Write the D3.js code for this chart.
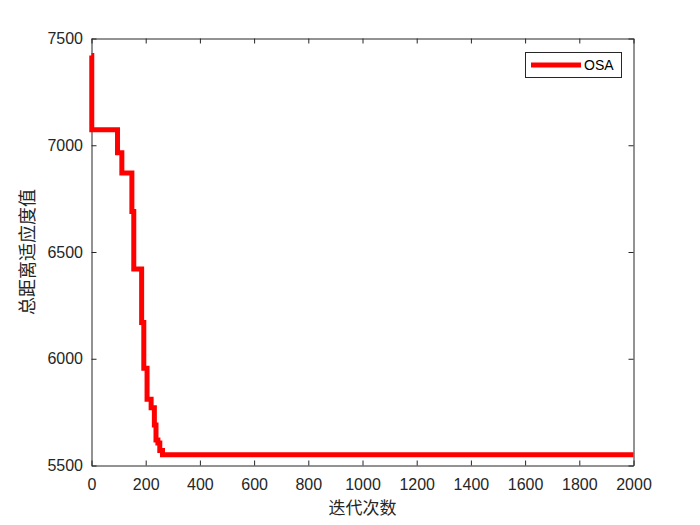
<html>
<head>
<meta charset="utf-8">
<script src="https://d3js.org/d3.v7.min.js"></script>
<style>
body { margin: 0; background: #fff; }
.axis path, .axis line { stroke: #262626; stroke-width: 1; }
</style>
</head>
<body>
<svg width="700" height="525"></svg>
<script>
// iteration where the best fitness changes, and the value from there on
var iters = [0, 1, 96, 112, 149, 156, 185, 193, 205, 220, 232, 238, 245, 252, 262, 2000];
var fitness = [7420, 7073, 6965, 6870, 6690, 6420, 6170, 5955, 5810, 5770, 5690, 5620, 5605, 5570, 5550, 5550];
var xTicks = [0, 200, 400, 600, 800, 1000, 1200, 1400, 1600, 1800, 2000];
var yTicks = [5500, 6000, 6500, 7000, 7500];
var seriesName = "OSA";
var xTitle = "迭代次数";
var yTitle = "总距离适应度值";

var svg = d3.select("svg");

var x = d3.scaleLinear().domain([0, 2000]).range([91.5, 633.5]);
var y = d3.scaleLinear().domain([5500, 7500]).range([465.5, 38.5]);

var points = iters.map(function(d, i) { return [d, fitness[i]]; });

function styleAxis(g) {
  g.attr("font-family", "'Liberation Sans', Arial, sans-serif")
   .attr("font-size", 16);
  g.selectAll("text").attr("fill", "#262626");
}

// axes, ticks pointing inwards like matlab
svg.append("g").attr("class", "axis")
  .attr("transform", "translate(0,465.5)")
  .call(d3.axisBottom(x).tickValues(xTicks).tickFormat(d3.format("d")).tickSizeInner(-5).tickSizeOuter(0).tickPadding(13))
  .call(styleAxis);
svg.append("g").attr("class", "axis")
  .attr("transform", "translate(0,38.5)")
  .call(d3.axisTop(x).tickValues(xTicks).tickSizeInner(-5).tickSizeOuter(0).tickFormat(""));
svg.append("g").attr("class", "axis")
  .attr("transform", "translate(91.5,0)")
  .call(d3.axisLeft(y).tickValues(yTicks).tickFormat(d3.format("d")).tickSizeInner(-5).tickSizeOuter(0).tickPadding(8.5))
  .call(styleAxis);
svg.append("g").attr("class", "axis")
  .attr("transform", "translate(633.5,0)")
  .call(d3.axisRight(y).tickValues(yTicks).tickSizeInner(-5).tickSizeOuter(0).tickFormat(""));

// the curve
var line = d3.line()
  .x(function(d) { return x(d[0]); })
  .y(function(d) { return y(d[1]); })
  .curve(d3.curveStepAfter);

svg.append("path")
  .datum(points)
  .attr("d", line)
  .attr("fill", "none")
  .attr("stroke", "#ff0000")
  .attr("stroke-width", 5)
  .attr("stroke-linejoin", "miter");

// axis titles
svg.append("text")
  .attr("x", 362.5)
  .attr("y", 514)
  .attr("text-anchor", "middle")
  .style("font-family", "'Noto Sans CJK SC', sans-serif")
  .style("font-size", "17px")
  .style("fill", "#262626")
  .text(xTitle);

svg.append("text")
  .attr("transform", "translate(34,252) rotate(-90)")
  .attr("text-anchor", "middle")
  .style("font-family", "'Noto Sans CJK SC', sans-serif")
  .style("font-size", "18px")
  .style("fill", "#262626")
  .text(yTitle);

// legend
var legend = svg.append("g");
legend.append("rect")
  .attr("x", 525.5).attr("y", 52.5)
  .attr("width", 96).attr("height", 25)
  .attr("fill", "#fff").attr("stroke", "#262626").attr("stroke-width", 1);
legend.append("line")
  .attr("x1", 531).attr("x2", 581)
  .attr("y1", 65).attr("y2", 65)
  .attr("stroke", "#ff0000").attr("stroke-width", 5);
legend.append("text")
  .attr("x", 584).attr("y", 70)
  .style("font-family", "'Liberation Sans', Arial, sans-serif")
  .style("font-size", "14px")
  .style("fill", "#000")
  .text(seriesName);
</script>
</body>
</html>
